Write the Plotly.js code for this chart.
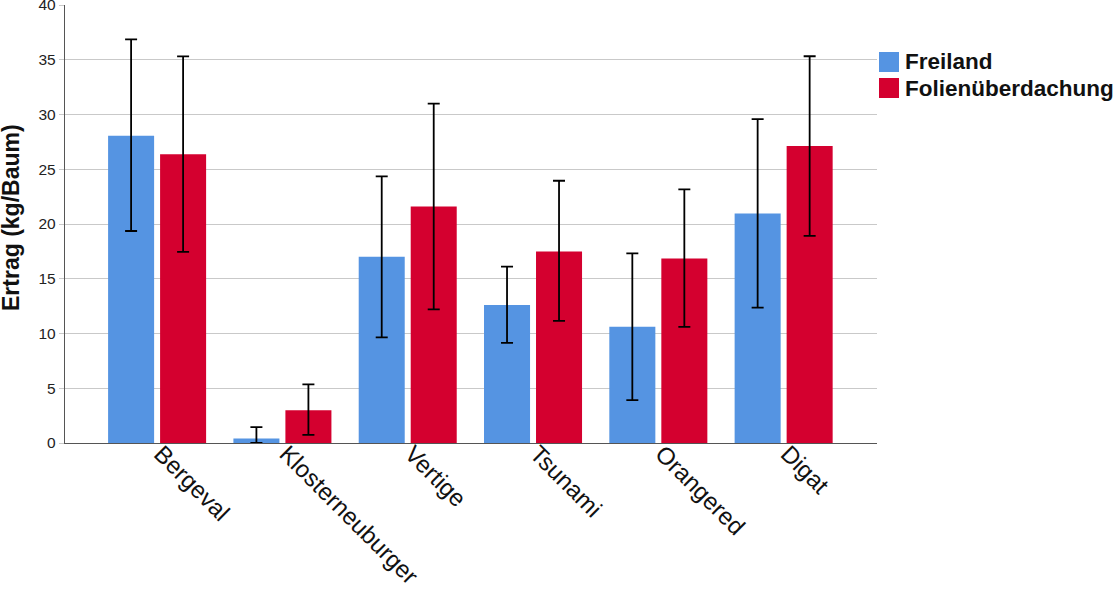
<!DOCTYPE html>
<html>
<head>
<meta charset="utf-8">
<script src="https://cdn.plot.ly/plotly-3.0.1.min.js"></script>
<style>html,body{margin:0;padding:0;background:#fff;}#chart{width:1115px;height:589px;}</style>
</head>
<body>
<div id="chart"></div>
<script>
const categories = ["Bergeval", "Klosterneuburger", "Vertige", "Tsunami", "Orangered", "Digat"];
const freiland = [28.06, 0.4, 17.0, 12.6, 10.62, 20.97];
const freilandErrPlus = [8.8, 1.05, 7.35, 3.5, 6.7, 8.6];
const freilandErrMinus = [8.7, 0.4, 7.35, 3.45, 6.7, 8.6];
const folie = [26.36, 3.0, 21.6, 17.5, 16.86, 27.12];
const folieErrPlus = [8.95, 2.35, 9.4, 6.45, 6.3, 8.2];
const folieErrMinus = [8.9, 2.25, 9.4, 6.35, 6.25, 8.2];
const seriesNames = ["Freiland", "Folienüberdachung"];
const seriesColors = ["#5594E2", "#D4002F"];
const yTicks = [0, 5, 10, 15, 20, 25, 30, 35, 40];

const errStyle = {color: "#000", thickness: 1.8, width: 6};
const traces = [
  {type: "bar", name: seriesNames[0], x: categories, y: freiland,
   marker: {color: seriesColors[0]},
   error_y: Object.assign({type: "data", symmetric: false, array: freilandErrPlus, arrayminus: freilandErrMinus}, errStyle)},
  {type: "bar", name: seriesNames[1], x: categories, y: folie,
   marker: {color: seriesColors[1]},
   error_y: Object.assign({type: "data", symmetric: false, array: folieErrPlus, arrayminus: folieErrMinus}, errStyle)}
];

// legend drawn as paper-positioned swatches + labels
const legendShapes = [], legendAnn = [];
seriesNames.forEach((n, i) => {
  const top = 52 + i * 26;
  legendShapes.push({type: "rect", xref: "paper", yref: "paper",
    x0: (879 - 65) / 812, x1: (899 - 65) / 812,
    y0: (443 - top) / 438, y1: (443 - top - 20) / 438,
    fillcolor: seriesColors[i], line: {width: 0}});
  legendAnn.push({xref: "paper", yref: "paper", x: (903 - 65) / 812, y: (443 - top - 10) / 438,
    xanchor: "left", yanchor: "middle", showarrow: false, text: "<b>" + n + "</b>",
    font: {size: 22.5, color: "#111"}});
});

const layout = {
  width: 1115, height: 589,
  margin: {l: 65, r: 238, t: 5, b: 146},
  paper_bgcolor: "#fff", plot_bgcolor: "#fff",
  barmode: "group", bargap: 0.17, bargroupgap: 0.115,
  font: {family: "Liberation Sans, Arial, sans-serif", color: "#111"},
  xaxis: {type: "category", range: [-0.735, 5.745], showgrid: false, showline: true,
          linecolor: "#555", linewidth: 1.2, ticks: "", tickangle: 45,
          ticklabelstandoff: -14, ticklabelshift: 4,
          tickfont: {size: 24, color: "#111"}, automargin: false},
  yaxis: {range: [0, 40], tickvals: yTicks, ticktext: yTicks.map(String), showgrid: true, gridcolor: "#c9c9c9",
          gridwidth: 1, showline: true, linecolor: "#555", linewidth: 1.2, ticks: "outside",
          ticklen: 5, tickcolor: "#c9c9c9", tickfont: {size: 15.5, color: "#222"}, zeroline: false,
          ticklabeloverflow: "allow", automargin: false},
  showlegend: false,
  shapes: legendShapes,
  annotations: legendAnn.concat([
    {xref: "paper", yref: "paper", x: -65 / 812, y: (443 - 218) / 438, xanchor: "left", yanchor: "middle",
     xshift: -4, textangle: -90, showarrow: false, text: "<b>Ertrag (kg/Baum)</b>", font: {size: 23, color: "#111"}}
  ])
};

Plotly.newPlot("chart", traces, layout, {staticPlot: true, displayModeBar: false});
</script>
</body>
</html>
